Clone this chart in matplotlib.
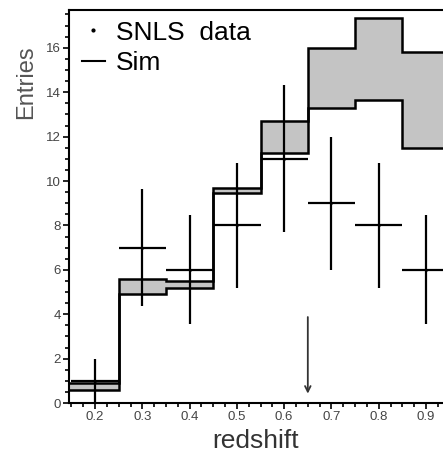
import numpy as np
import matplotlib.pyplot as plt
from matplotlib.lines import Line2D
from matplotlib.ticker import MultipleLocator

plt.rcParams['font.family'] = ['Liberation Sans', 'DejaVu Sans']
plt.rcParams['hatch.color'] = '#808080'
plt.rcParams['hatch.linewidth'] = 0.6

# SNLS data: bin centres, counts (Poisson errors)
z_data = [0.2, 0.3, 0.4, 0.5, 0.6, 0.7, 0.8, 0.9]
n_data = [1, 7, 6, 8, 11, 9, 8, 6]

# Sim band: bin edges, lower / upper edge of the band
sim_edges = [0.1, 0.25, 0.35, 0.45, 0.55, 0.65, 0.75, 0.85, 0.95]
sim_low = [0.6, 4.9, 5.2, 9.45, 11.25, 13.3, 13.65, 11.5]
sim_high = [0.9, 5.6, 5.5, 9.7, 12.7, 16.0, 17.35, 15.8]

# cut marker
z_cut = 0.65
cut_top, cut_bottom = 4.0, 0.3

fig = plt.figure(figsize=(4.43, 4.57), dpi=100)
ax = fig.add_axes([0.156, 0.118, 0.844, 0.86])

# shaded band between the two sim step lines
ax.stairs(sim_high, sim_edges, baseline=sim_low, fill=True,
          facecolor='#c4c4c4', edgecolor='none', hatch='.....')
ax.stairs(sim_low, sim_edges, baseline=None, color='black', lw=1.8)
ax.stairs(sim_high, sim_edges, baseline=None, color='black', lw=1.8)

err = np.sqrt(n_data)
ax.errorbar(z_data, n_data, xerr=0.05, yerr=err, fmt='.', ms=2,
            color='black', elinewidth=1.6, capsize=0)

ax.annotate('', xy=(z_cut, cut_bottom), xytext=(z_cut, cut_top),
            arrowprops=dict(arrowstyle='->', color='#333333', lw=1.3,
                            mutation_scale=10))

ax.set_xlim(0.145, 0.936)
ax.set_ylim(0, 17.7)
ax.spines['right'].set_visible(False)
for s in ['left', 'bottom', 'top']:
    ax.spines[s].set_linewidth(1.5)

ax.xaxis.set_major_locator(MultipleLocator(0.1))
ax.xaxis.set_minor_locator(MultipleLocator(0.025))
ax.yaxis.set_major_locator(MultipleLocator(2))
ax.yaxis.set_minor_locator(MultipleLocator(0.5))
ax.tick_params(which='both', direction='out', width=1.2, labelsize=9.5,
               colors='black', labelcolor='#444444')
ax.tick_params(which='major', length=4, pad=2)
ax.tick_params(which='minor', length=3)
ax.tick_params(axis='x', top=False)
ax.set_xticks([0.2, 0.3, 0.4, 0.5, 0.6, 0.7, 0.8, 0.9])
ax.set_xticklabels(['0.2', '0.3', '0.4', '0.5', '0.6', '0.7', '0.8', '0.9'])

ax.set_xlabel('redshift', fontsize=19, color='#333333', labelpad=4)
ax.set_ylabel('Entries', fontsize=17, color='#555555', loc='top')
ax.yaxis.set_label_coords(-0.085, 0.91)

handles = [Line2D([], [], marker='.', ls='none', color='black', ms=4),
           Line2D([], [], color='black', lw=1.5)]
ax.legend(handles, ['SNLS  data', 'Sim'], loc='upper left', frameon=False,
          fontsize=19, handlelength=0.9, handletextpad=0.4,
          borderaxespad=0.0, labelspacing=0.25,
          bbox_to_anchor=(0.005, 1.0))

fig.savefig('out.png', dpi=100)
